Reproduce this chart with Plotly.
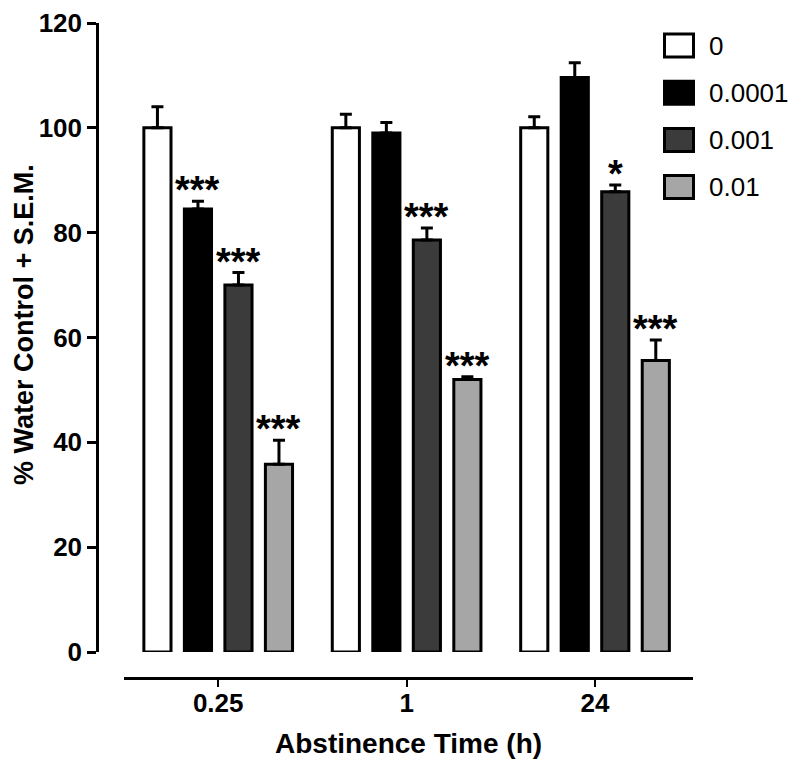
import plotly.graph_objects as go

# ---------------- data ----------------
categories = ["0.25", "1", "24"]
series_names = ["0", "0.0001", "0.001", "0.01"]
vals_0 = [100.0, 100.0, 100.0]
vals_00001 = [84.5, 99.0, 109.6]
vals_0001 = [70.0, 78.6, 87.8]
vals_001 = [35.8, 52.0, 55.6]
sem_0 = [4.0, 2.6, 2.1]
sem_00001 = [1.5, 2.0, 2.8]
sem_0001 = [2.4, 2.3, 1.3]
sem_001 = [4.6, 0.5, 3.9]
sig_0 = ["", "", ""]
sig_00001 = ["***", "", ""]
sig_0001 = ["***", "***", "*"]
sig_001 = ["***", "***", "***"]
y_ticks = [0, 20, 40, 60, 80, 100, 120]

values = [vals_0, vals_00001, vals_0001, vals_001]
sems = [sem_0, sem_00001, sem_0001, sem_001]
sigs = [sig_0, sig_00001, sig_0001, sig_001]
colors = ["#ffffff", "#000000", "#3b3b3b", "#a6a6a6"]

# page has an 8px body margin: figure is drawn offset by OFF
OFF = 8
W, H = 800 - 2 * OFF, 767 - 2 * OFF
ML = 97 - OFF
MT = 23 - OFF
MB = H - (678 - OFF)
MR = W - (790 - OFF)
PW, PH = W - ML - MR, H - MT - MB


def pxx(p):  # page pixel -> paper x
    return (p - OFF - ML) / PW


def pxy(p):  # page pixel -> paper y
    return (H - MB - (p - OFF)) / PH


FONT = "Liberation Sans, Arial, sans-serif"

fig = go.Figure()
for name, v, e, c in zip(series_names, values, sems, colors):
    fig.add_trace(go.Bar(
        x=categories, y=v, name=name,
        marker=dict(color=c, line=dict(color="black", width=3)),
        error_y=dict(type="data", symmetric=False, array=e,
                     arrayminus=[0] * len(e), color="black",
                     thickness=3, width=6),
        showlegend=False,
    ))

# significance stars above the error bars
slot_px = 40.5
annotations = []
for i, (v, e, s) in enumerate(zip(values, sems, sigs)):
    for j, cat in enumerate(categories):
        if s[j]:
            annotations.append(dict(
                x=j, y=v[j] + e[j], xref="x", yref="y",
                text=s[j], showarrow=False,
                xshift=(i - 1.5) * slot_px, yshift=-12,
                yanchor="bottom", xanchor="center",
                font=dict(family=FONT, size=38, color="black", weight="bold"),
            ))

# axis titles
annotations.append(dict(
    x=pxx(408.5), y=pxy(743), xref="paper", yref="paper",
    text="Abstinence Time (h)", showarrow=False,
    xanchor="center", yanchor="middle",
    font=dict(family=FONT, size=28, color="black", weight="bold"),
))
annotations.append(dict(
    x=pxx(24), y=pxy(325), xref="paper", yref="paper",
    text="% Water Control + S.E.M.", showarrow=False, textangle=-90,
    xanchor="center", yanchor="middle",
    font=dict(family=FONT, size=27, color="black", weight="bold"),
))

# manual legend
shapes = []
row0, row_step = 45.5, 47.2
for i, (name, c) in enumerate(zip(series_names, colors)):
    cy = row0 + i * row_step
    shapes.append(dict(
        type="rect", xref="paper", yref="paper",
        x0=pxx(664.5), x1=pxx(693.5), y0=pxy(cy + 11.5), y1=pxy(cy - 11.5),
        fillcolor=c, line=dict(color="black", width=3),
    ))
    annotations.append(dict(
        x=pxx(707), y=pxy(cy), xref="paper", yref="paper",
        text=name, showarrow=False, xanchor="left", yanchor="middle",
        font=dict(family=FONT, size=26, color="black"),
    ))

fig.update_layout(
    width=W, height=H,
    margin=dict(l=ML, r=MR, t=MT, b=MB, pad=0, autoexpand=False),
    paper_bgcolor="white", plot_bgcolor="white",
    barmode="group", bargap=0.14, bargroupgap=0.33,
    font=dict(family=FONT, color="black"),
    annotations=annotations, shapes=shapes,
    showlegend=False,
    xaxis=dict(
        type="category", range=[-0.5, 2.52],
        domain=[pxx(124), pxx(693)],
        anchor="free", position=0, automargin=False,
        showline=True, linecolor="black", linewidth=2.5,
        ticks="outside", ticklen=7, tickwidth=2, tickcolor="black",
        ticklabelstandoff=-6,
        tickfont=dict(family=FONT, size=26, color="black", weight="bold"),
        showgrid=False, zeroline=False,
    ),
    yaxis=dict(
        range=[0, 120], domain=[pxy(652), 1],
        anchor="free", position=0, automargin=False,
        tickvals=y_ticks, ticklabeloverflow="allow",
        showline=True, linecolor="black", linewidth=2.5,
        ticks="outside", ticklen=9, tickwidth=2.5, tickcolor="black",
        tickfont=dict(family=FONT, size=26, color="black", weight="bold"),
        showgrid=False, zeroline=False,
    ),
)

fig.write_html("out.html")
